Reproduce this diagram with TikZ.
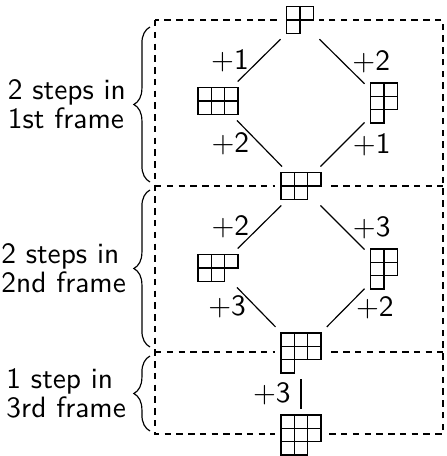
\documentclass[tikz,border=0pt]{standalone}
\usepackage{tikz}
\usetikzlibrary{positioning,decorations.pathreplacing}

% Young diagram: list of row lengths, top row first
\newcommand{\young}[1]{%
  \tikz[x=4.52pt,y=-4.52pt]{%
    \foreach \n [count=\rw] in {#1}
      \foreach \cl in {1,...,\n}
        \draw (\cl-1,\rw-1) rectangle ++(1,1);}%
}

\begin{document}
\begin{tikzpicture}[
  x=0.34pt, y=-0.34pt,
  font=\sffamily,
  tab/.style={fill=white, inner sep=1.7pt},
  stage/.style={dash pattern=on 2.2pt off 1.8pt, line width=0.35pt},
  brace/.style={decorate, decoration={brace, amplitude=5.5pt}},
  steps/.style={left=7pt, align=left, inner sep=1pt, font=\sffamily\fontsize{10}{9.8}\selectfont}
]
\useasboundingbox (0,0) rectangle (447,456);

% frames
\draw[stage] (155,20) rectangle (443,434);
\draw[stage] (155,186) -- (443,186);
\draw[stage] (155,352) -- (443,352);

\draw[brace] (150,182) -- node[steps] {2 steps in\\1st frame} (150,27);
\draw[brace] (150,347) -- node[steps] {2 steps in\\2nd frame} (150,190);
\draw[brace] (150,431) -- node[steps] {1 step in\\3rd frame} (150,356);

% diagrams
\node[tab] (top) at (300,20) {\young{2,1}};
\node[tab] (l1) at (218,101) {\young{3,3}};
\node[tab] (r1) at (384,103) {\young{2,2,1}};
\node[tab] (m1) at (301,186) {\young{3,2}};
\node[tab] (l2) at (218,268) {\young{3,2}};
\node[tab] (r2) at (384,269) {\young{2,2,1}};
\node[tab] (m2) at (301,353) {\young{3,3,1}};
\node[tab] (bot) at (301,435) {\young{3,3,2}};

\draw (top) -- node[left] {+1} (l1);
\draw (top) -- node[right] {+2} (r1);
\draw (l1) -- node[left] {+2} (m1);
\draw (r1) -- node[right] {+1} (m1);

\draw (m1) -- node[left] {+2} (l2);
\draw (m1) -- node[right] {+3} (r2);
\draw (l2) -- node[left] {+3} (m2);
\draw (r2) -- node[right] {+2} (m2);

\draw (m2) -- node[left] {+3} (bot);
\end{tikzpicture}
\end{document}
